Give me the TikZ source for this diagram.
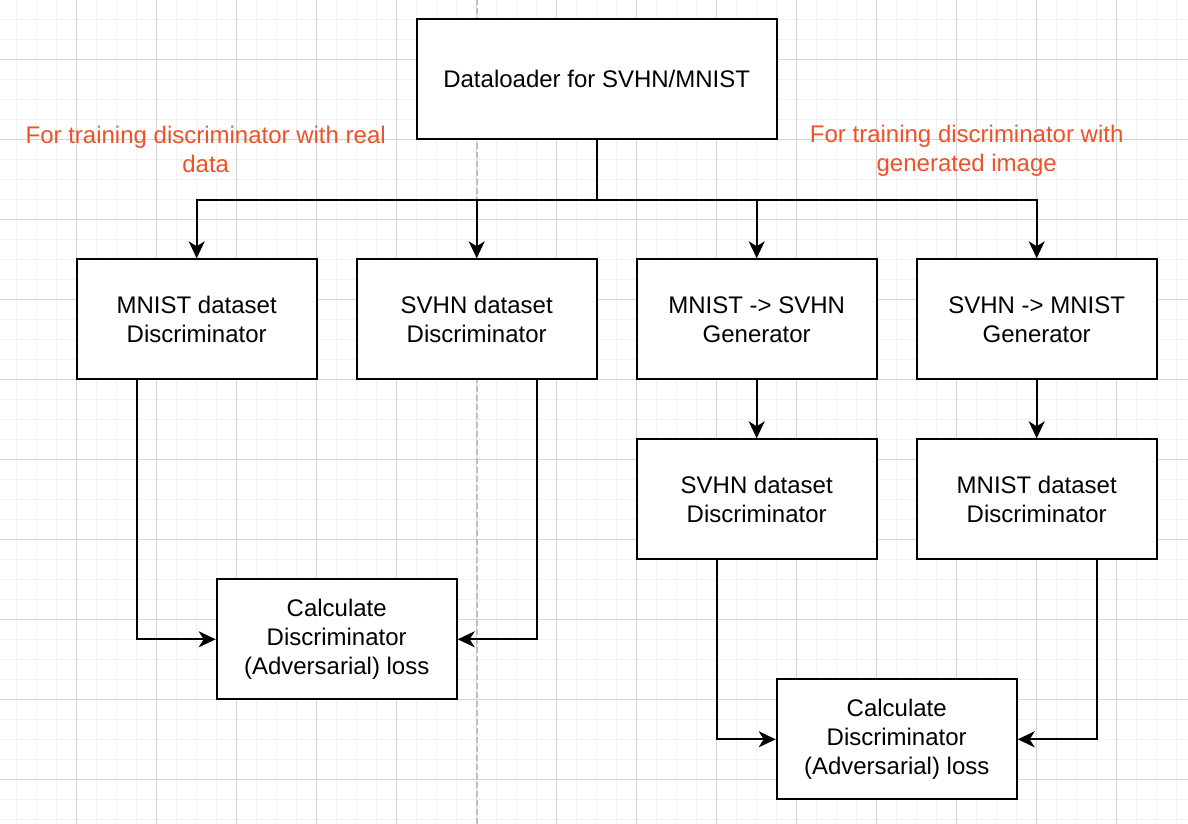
\documentclass[tikz,border=0pt]{standalone}
\usepackage{fontspec}
\setmainfont{Liberation Sans}
\usetikzlibrary{arrows.meta}
\definecolor{minorgrid}{RGB}{242,242,242}
\definecolor{majorgrid}{RGB}{212,212,212}
\definecolor{dashgray}{RGB}{190,190,190}
\definecolor{labelorange}{RGB}{238,82,40}
\tikzset{
  box/.style={draw=black, line width=2bp, fill=white, minimum width=240bp, minimum height=120bp,
    inner sep=2bp, align=center, font=\fontsize{24bp}{29bp}\selectfont},
  note/.style={text=labelorange, align=center, font=\fontsize{24bp}{29bp}\selectfont},
  conn/.style={draw=black, line width=2bp},
  arr/.style={conn, -{Stealth[length=17bp,width=16bp,inset=5bp]}}
}
\begin{document}
\begin{tikzpicture}[x=1bp,y=-1bp]
\useasboundingbox (0,0) rectangle (1188,824);
\fill[white] (0,0) rectangle (1188,824);
\begin{scope}
\clip (0,0) rectangle (1188,824);
\begin{scope}[shift={(-3.3,-0.7)}]
  % minor grid
  \foreach \i in {0,20,...,1200} \draw[minorgrid, line width=1.5bp] (\i,0) -- (\i,840);
  \foreach \j in {0,20,...,840} \draw[minorgrid, line width=1.5bp] (0,\j) -- (1200,\j);
  % major grid
  \foreach \i in {0,80,...,1200} \draw[majorgrid, line width=1bp] (\i,0) -- (\i,840);
  \foreach \j in {60,140,...,840} \draw[majorgrid, line width=1bp] (0,\j) -- (1200,\j);
  % dashed separator
  \draw[dashgray, line width=1.6bp, dash pattern=on 6bp off 3bp] (480,0) -- (480,840);
\end{scope}
\end{scope}
\begin{scope}[shift={(-3.3,-0.7)}]
  \node[box, minimum width=360bp] (dl) at (600,80) {Dataloader for SVHN/MNIST};
  \node[note] (lnote) at (209,150) {For training discriminator with real\\data};
  \node[note] (rnote) at (970,151) {For training discriminator with\\generated image};

  \node[box] (md) at (200,320) {MNIST dataset\\Discriminator};
  \node[box] (sd) at (480,320) {SVHN dataset\\Discriminator};
  \node[box] (g1) at (760,320) {MNIST -> SVHN\\Generator};
  \node[box] (g2) at (1040,320) {SVHN -> MNIST\\Generator};

  \node[box] (sd2) at (760,500) {SVHN dataset\\Discriminator};
  \node[box] (md2) at (1040,500) {MNIST dataset\\Discriminator};

  \node[box] (c1) at (340,640) {Calculate\\Discriminator\\(Adversarial) loss};
  \node[box] (c2) at (900,740) {Calculate\\Discriminator\\(Adversarial) loss};

  \draw[arr] (dl.south) -- ++(0,60) -| (md.north);
  \draw[arr] (dl.south) -- ++(0,60) -| (sd.north);
  \draw[arr] (dl.south) -- ++(0,60) -| (g1.north);
  \draw[arr] (dl.south) -- ++(0,60) -| (g2.north);

  \draw[arr] (g1.south) -- (sd2.north);
  \draw[arr] (g2.south) -- (md2.north);

  \draw[arr] ([xshift=-60bp]md.south) |- (c1.west);
  \draw[arr] ([xshift=60bp]sd.south) |- (c1.east);
  \draw[arr] ([xshift=-40bp]sd2.south) |- (c2.west);
  \draw[arr] ([xshift=60bp]md2.south) |- (c2.east);
\end{scope}
\end{tikzpicture}
\end{document}
